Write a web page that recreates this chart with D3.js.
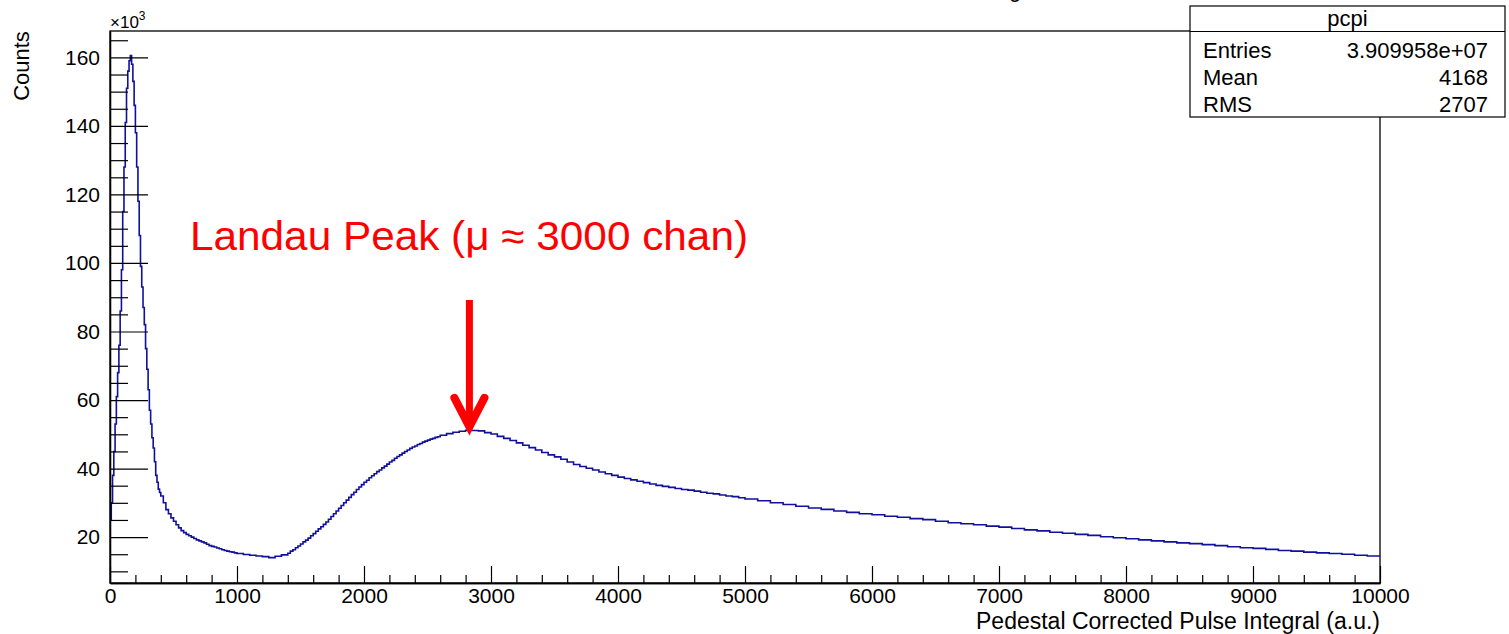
<!DOCTYPE html>
<html>
<head>
<meta charset="utf-8">
<script src="https://cdn.jsdelivr.net/npm/d3@7"></script>
<style>
  html, body { margin: 0; padding: 0; background: #fff; }
  svg { display: block; }
  text { font-family: "Liberation Sans", Arial, Helvetica, sans-serif; }
</style>
</head>
<body>
<svg id="chart" width="1509" height="634"></svg>
<script>
// ---------- data (counts in units of 10^3) ----------
// 0 - 400, bin width 10
const spikeCounts = [25, 30, 38, 45, 53, 61, 68, 76, 86, 98,
  115, 128, 141, 151, 156, 159, 160.5, 158, 153, 146,
  138, 128, 118, 108, 99, 93, 87, 82, 75, 69,
  63, 57, 53, 49, 46, 42, 38, 36, 34, 33];
// 400 - 1000, bin width 20
const fallCounts = [32.0, 30.0, 28.0, 26.8, 25.6, 24.6, 23.6, 22.7, 21.9, 21.3,
  20.8, 20.4, 20.0, 19.6, 19.2, 18.9, 18.6, 18.3, 17.9, 17.5,
  17.3, 17.1, 16.8, 16.6, 16.3, 16.1, 15.9, 15.7, 15.6, 15.4];
// 1000 - 1400, bin width 50
const valleyCounts = [15.2, 14.9, 14.7, 14.5, 14.3, 14.0, 14.4, 14.8];
// 1400 - 2600, bin width 20
const riseCounts = [15.3, 15.9, 16.3, 16.9, 17.4, 18.0, 18.6, 19.1, 19.7, 20.4,
  21.0, 21.7, 22.4, 23.0, 23.7, 24.4, 25.2, 26.0, 26.8, 27.6,
  28.4, 29.2, 30.0, 30.8, 31.6, 32.4, 33.1, 33.9, 34.6, 35.3,
  36.0, 36.6, 37.3, 37.9, 38.5, 39.1, 39.6, 40.2, 40.7, 41.3,
  41.9, 42.4, 43.0, 43.5, 44.0, 44.5, 45.0, 45.4, 45.9, 46.3,
  46.6, 47.0, 47.3, 47.7, 48.0, 48.3, 48.6, 48.8, 49.1, 49.3];
// 2600 - 5000, bin width 50
const peakCounts = [49.7, 50.2, 50.6, 50.9, 51.2, 51.1, 51.0, 50.5, 50.1, 49.4,
  48.8, 48.2, 47.5, 46.8, 46.1, 45.4, 44.7, 44.0, 43.4, 42.7,
  41.9, 41.2, 40.6, 40.1, 39.6, 39.0, 38.5, 38.0, 37.5, 37.1,
  36.7, 36.3, 35.9, 35.5, 35.1, 34.8, 34.5, 34.2, 33.9, 33.7,
  33.4, 33.1, 32.8, 32.6, 32.3, 32.0, 31.8, 31.5];
// 5000 - 10000, bin width 100
const tailCounts = [31.1, 30.6, 30.0, 29.5, 29.0, 28.5, 28.1, 27.6, 27.2, 26.8,
  26.5, 26.1, 25.8, 25.4, 25.1, 24.6, 24.2, 23.9, 23.6, 23.2,
  22.9, 22.5, 22.1, 21.8, 21.4, 21.1, 20.8, 20.5, 20.1, 19.8,
  19.5, 19.2, 18.9, 18.6, 18.3, 18.1, 17.8, 17.5, 17.2, 16.9,
  16.7, 16.4, 16.1, 15.9, 15.6, 15.4, 15.2, 15.0, 14.7, 14.5];
const segments = [
  { from: 0, width: 10, counts: spikeCounts },
  { from: 400, width: 20, counts: fallCounts },
  { from: 1000, width: 50, counts: valleyCounts },
  { from: 1400, width: 20, counts: riseCounts },
  { from: 2600, width: 50, counts: peakCounts },
  { from: 5000, width: 100, counts: tailCounts }
];

const xMajorTicks = [0, 1000, 2000, 3000, 4000, 5000, 6000, 7000, 8000, 9000, 10000];
const yMajorTicks = [20, 40, 60, 80, 100, 120, 140, 160];
const xDomain = [0, 10000];
const yDomain = [6.6, 167.7];

const statsTitle = "pcpi";
const statsLabels = ["Entries", "Mean", "RMS"];
const statsValues = ["3.909958e+07", "4168", "2707"];

const xTitle = "Pedestal Corrected Pulse Integral (a.u.)";
const yTitle = "Counts";
const annotation = "Landau Peak (\u03bc \u2248 3000 chan)";
const arrowX = 2830;
const arrowTopY = 89.2;   // in 10^3 counts
const arrowTipY = 51.3;

// ---------- layout ----------
const svg = d3.select("#chart");
const pLeft = 110, pRight = 1380, pTop = 31, pBottom = 583;

const x = d3.scaleLinear().domain(xDomain).range([pLeft, pRight]);
const y = d3.scaleLinear().domain(yDomain).range([pBottom, pTop]);

// build bins
const bins = [];
segments.forEach(s => {
  s.counts.forEach((c, i) => bins.push({ lo: s.from + i * s.width, hi: s.from + (i + 1) * s.width, c }));
});
const pts = bins.map(b => [b.lo, b.c]);
pts.push([bins[bins.length - 1].hi, bins[bins.length - 1].c]);

// clipped title fragment at the very top (cut off in the original)
svg.append("text").attr("x", 1015).attr("y", -3).attr("text-anchor", "middle")
  .attr("font-size", 22).text("g");

// frame
svg.append("rect").attr("x", pLeft).attr("y", pTop).attr("width", pRight - pLeft).attr("height", pBottom - pTop)
  .attr("fill", "none").attr("stroke", "#000").attr("stroke-width", 1.3);

// histogram
const line = d3.line().x(d => x(d[0])).y(d => y(d[1])).curve(d3.curveStepAfter);
svg.append("path").datum(pts).attr("d", line)
  .attr("fill", "none").attr("stroke", "#10109c").attr("stroke-width", 1.6);

// axes
const fontSize = 21;
const yMinor = d3.range(10, 166, 5).filter(v => v % 20 !== 0);
const xMinor = d3.range(200, 10000, 200).filter(v => v % 1000 !== 0);

const gyMinor = svg.append("g").attr("transform", `translate(${pLeft},0)`)
  .call(d3.axisLeft(y).tickValues(yMinor).tickSizeInner(-18).tickSizeOuter(0).tickFormat(""));
const gy = svg.append("g").attr("transform", `translate(${pLeft},0)`)
  .call(d3.axisLeft(y).tickValues(yMajorTicks).tickSizeInner(-38).tickSizeOuter(0).tickPadding(10).tickFormat(d3.format("d")));
const gxMinor = svg.append("g").attr("transform", `translate(0,${pBottom})`)
  .call(d3.axisBottom(x).tickValues(xMinor).tickSizeInner(-8).tickSizeOuter(0).tickFormat(""));
const gx = svg.append("g").attr("transform", `translate(0,${pBottom})`)
  .call(d3.axisBottom(x).tickValues(xMajorTicks).tickSizeInner(-17).tickSizeOuter(0).tickPadding(5).tickFormat(d3.format("d")));

[gyMinor, gy, gxMinor, gx].forEach(g => {
  g.select(".domain").attr("stroke", "#000").attr("stroke-width", 1.3);
  g.selectAll(".tick line").attr("stroke", "#000").attr("stroke-width", 1.2);
  g.selectAll(".tick text").attr("fill", "#000").attr("font-size", fontSize)
    .attr("font-family", "'Liberation Sans', Arial, sans-serif");
});

// axis titles
svg.append("text").attr("x", pRight).attr("y", 629).attr("text-anchor", "end")
  .attr("font-size", 23).text(xTitle);
svg.append("text").attr("transform", "translate(29,66) rotate(-90)").attr("text-anchor", "middle")
  .attr("font-size", 22).text(yTitle);

// x10^3 multiplier
const mult = svg.append("text").attr("x", pLeft).attr("y", 28).attr("font-size", 17);
mult.append("tspan").text("\u00d710");
mult.append("tspan").attr("font-size", 12).attr("dy", -8).text("3");

// stats box
const bx = 1190, by = 6, bw = 315, bh = 111;
svg.append("rect").attr("x", bx).attr("y", by).attr("width", bw).attr("height", bh)
  .attr("fill", "#fff").attr("stroke", "#000").attr("stroke-width", 1.2);
svg.append("line").attr("x1", bx).attr("x2", bx + bw).attr("y1", 31.5).attr("y2", 31.5)
  .attr("stroke", "#000").attr("stroke-width", 1.2);
svg.append("text").attr("x", bx + bw / 2).attr("y", 26).attr("text-anchor", "middle")
  .attr("font-size", 22).text(statsTitle);
statsLabels.forEach((lab, i) => {
  const yy = 57.5 + i * 27;
  svg.append("text").attr("x", 1203).attr("y", yy).attr("font-size", 22).text(lab);
  svg.append("text").attr("x", 1488).attr("y", yy).attr("text-anchor", "end").attr("font-size", 22).text(statsValues[i]);
});

// annotation
svg.append("text").attr("x", 190).attr("y", 250).attr("font-size", 40)
  .attr("font-family", "Lato, 'Open Sans', sans-serif").attr("fill", "#ff0000")
  .attr("textLength", 558).attr("lengthAdjust", "spacingAndGlyphs").text(annotation);

const ax = x(arrowX), ayTop = y(arrowTopY), ayTip = y(arrowTipY);
svg.append("line").attr("x1", ax).attr("x2", ax).attr("y1", ayTop).attr("y2", ayTip - 6)
  .attr("stroke", "#ff0000").attr("stroke-width", 7);
svg.append("path")
  .attr("d", `M${ax - 15},${ayTip - 32} L${ax},${ayTip - 3} L${ax + 15},${ayTip - 32}`)
  .attr("fill", "none").attr("stroke", "#ff0000").attr("stroke-width", 8)
  .attr("stroke-linecap", "round").attr("stroke-linejoin", "miter");
</script>
</body>
</html>
